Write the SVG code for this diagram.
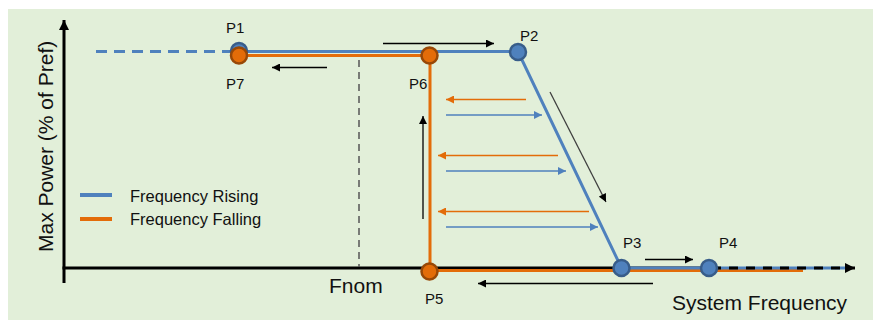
<svg xmlns="http://www.w3.org/2000/svg" width="873" height="321" viewBox="0 0 873 321">
<style>
text{font-family:"Liberation Sans",Arial,sans-serif;fill:#111;}
.lbl{font-size:15px;}
.big{font-size:21px;}
.leg{font-size:16.5px;}
.blue{stroke:#4F81BD;stroke-width:3;fill:none;}
.orange{stroke:#E36C09;stroke-width:3;fill:none;}
.bn{fill:#4F81BD;stroke:#385D8A;stroke-width:2.5;}
.on{fill:#E36C09;stroke:#984807;stroke-width:2.5;}
.ka{stroke:#000;stroke-width:1.3;fill:none;marker-end:url(#ak);}
.oa{stroke:#E36C09;stroke-width:1.3;fill:none;marker-end:url(#ao);}
.ba{stroke:#4F81BD;stroke-width:1.3;fill:none;marker-end:url(#ab);}
</style>
<defs>
<marker id="ak" markerUnits="userSpaceOnUse" viewBox="0 0 10 10" refX="10" refY="5" markerWidth="9" markerHeight="8" orient="auto"><path d="M0,0L10,5L0,10z" fill="#000"/></marker>
<marker id="ag" markerUnits="userSpaceOnUse" viewBox="0 0 10 10" refX="10" refY="5" markerWidth="9" markerHeight="8" orient="auto"><path d="M0,0L10,5L0,10z" fill="#000"/></marker>
<marker id="ao" markerUnits="userSpaceOnUse" viewBox="0 0 10 10" refX="10" refY="5" markerWidth="9" markerHeight="8" orient="auto"><path d="M0,0L10,5L0,10z" fill="#E36C09"/></marker>
<marker id="ab" markerUnits="userSpaceOnUse" viewBox="0 0 10 10" refX="10" refY="5" markerWidth="9" markerHeight="8" orient="auto"><path d="M0,0L10,5L0,10z" fill="#4F81BD"/></marker>
<marker id="ax" markerUnits="userSpaceOnUse" viewBox="0 0 10 10" refX="10" refY="5" markerWidth="12" markerHeight="10" orient="auto"><path d="M0,0L10,5L0,10z" fill="#000"/></marker>
</defs>
<rect x="8" y="9" width="865" height="311" fill="#E2EFD9"/>

<g id="axes">
<line x1="64" y1="283" x2="64" y2="20" stroke="#000" stroke-width="3" marker-end="url(#ax)"/>
<line x1="62.5" y1="268" x2="712" y2="268" stroke="#000" stroke-width="3"/>
<text class="big" transform="translate(53,252) rotate(-90)">Max Power (% of Pref)</text>
<text class="big" x="329" y="293">Fnom</text>
<text class="big" x="672" y="310">System Frequency</text>
</g>

<g id="legend">
<line x1="80" y1="195" x2="112" y2="195" stroke="#4F81BD" stroke-width="4"/>
<line x1="80" y1="219" x2="112" y2="219" stroke="#E36C09" stroke-width="4"/>
<text class="leg" x="130" y="201.5">Frequency Rising</text>
<text class="leg" x="130" y="224.5">Frequency Falling</text>
</g>

<g id="connectors">
<line x1="359" y1="60" x2="359" y2="267" stroke="#555" stroke-width="1.5" stroke-dasharray="7,5"/>
<line x1="96" y1="51.5" x2="239" y2="51.5" class="blue" stroke-dasharray="11,7"/>
<path d="M239,55.5H430V271.5" class="orange"/>
<path d="M430,270.5H803" class="orange"/>
<path d="M239,51.5H518L621.5,268H845" class="blue"/>
<line x1="712" y1="268" x2="855" y2="268" stroke="#000" stroke-width="3" stroke-dasharray="9,8" marker-end="url(#ax)"/>
<line x1="383" y1="43.5" x2="494" y2="43.5" class="ka"/>
<line x1="327" y1="67.5" x2="272" y2="67.5" class="ka"/>
<line x1="423" y1="219" x2="423" y2="116" class="ka"/>
<line x1="550" y1="92" x2="606" y2="202" stroke="#404040" stroke-width="1.3" marker-end="url(#ag)"/>
<line x1="653" y1="283.5" x2="478" y2="283.5" class="ka"/>
<line x1="645" y1="259.5" x2="693" y2="259.5" class="ka"/>
<line x1="526" y1="99.5" x2="446" y2="99.5" class="oa"/>
<line x1="446" y1="115" x2="542" y2="115" class="ba"/>
<line x1="558" y1="155.5" x2="438" y2="155.5" class="oa"/>
<line x1="446" y1="171" x2="566" y2="171" class="ba"/>
<line x1="589" y1="211.5" x2="438" y2="211.5" class="oa"/>
<line x1="446" y1="227" x2="598" y2="227" class="ba"/>
</g>

<g id="P1"><circle cx="239" cy="51" r="8" class="bn"/><text class="lbl" x="226" y="33">P1</text></g>
<g id="P7"><circle cx="239" cy="55.5" r="8" class="on"/><text class="lbl" x="226" y="89">P7</text></g>
<g id="P2"><circle cx="518" cy="52" r="8" class="bn"/><text class="lbl" x="520" y="41">P2</text></g>
<g id="P6"><circle cx="429.5" cy="55.5" r="8" class="on"/><text class="lbl" x="409" y="89">P6</text></g>
<g id="P3"><circle cx="621.5" cy="268" r="8" class="bn"/><text class="lbl" x="623" y="248">P3</text></g>
<g id="P4"><circle cx="709" cy="268" r="8" class="bn"/><text class="lbl" x="719" y="248">P4</text></g>
<g id="P5"><circle cx="429.5" cy="271.5" r="8" class="on"/><text class="lbl" x="425" y="304">P5</text></g>
</svg>
